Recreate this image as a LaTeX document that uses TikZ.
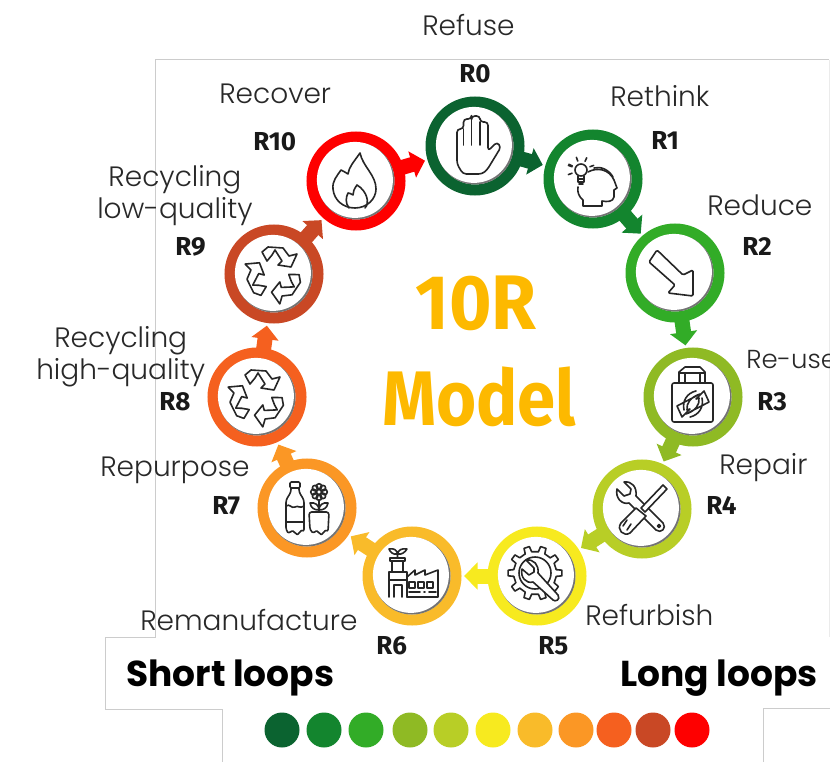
\documentclass[tikz,border=0pt]{standalone}
\usepackage{fontspec}
\usepackage{xcolor}
\usepackage{tikz}
\usetikzlibrary{arrows.meta,calc}
\newfontfamily\labelfont{Poppins Light}
\newfontfamily\loopfont{Poppins}[UprightFont=* Bold]
\newfontfamily\rfont{Fira Sans}[UprightFont=* Bold]
\newfontfamily\titlefont{Fira Sans}[UprightFont=* Bold,FakeStretch=0.94]
\newfontfamily\modelfont{Fira Sans}[UprightFont=* Bold,FakeStretch=0.89]

\definecolor{rzero}{RGB}{11,99,48}
\definecolor{rone}{RGB}{19,133,46}
\definecolor{rtwo}{RGB}{50,172,39}
\definecolor{rthree}{RGB}{143,186,36}
\definecolor{rfour}{RGB}{184,206,38}
\definecolor{rfive}{RGB}{247,234,31}
\definecolor{rsix}{RGB}{249,187,42}
\definecolor{rseven}{RGB}{251,151,37}
\definecolor{reight}{RGB}{245,96,31}
\definecolor{rnine}{RGB}{201,72,37}
\definecolor{rten}{RGB}{254,0,0}
\definecolor{titlecolor}{RGB}{253,185,0}
\definecolor{framecolor}{RGB}{204,204,204}
\definecolor{labelcolor}{RGB}{40,40,40}

\tikzset{
  ringnode/.style={circle,draw=#1,fill=white,line width=8.25pt,minimum size=66pt,inner sep=0pt},
  linkarrow/.style={draw=#1,line width=11.25pt,-{Triangle[width=20pt,length=10pt]},shorten >=2pt,shorten <=-1pt},
  dotnode/.style={circle,fill=#1,minimum size=26.25pt,inner sep=0pt},
  textlabel/.style={anchor=north west,inner sep=0.75pt,text=labelcolor,font=\labelfont\fontsize{21}{24}\selectfont,align=center},
  rlabel/.style={anchor=north west,inner sep=0.75pt,text=black!90,font=\rfont\fontsize{19.5}{24}\selectfont},
  looplabel/.style={anchor=north west,inner sep=0.75pt,font=\loopfont\fontsize{27}{30}\selectfont},
  titlelabel/.style={anchor=north west,inner sep=0.75pt,text=titlecolor,font=\titlefont\fontsize{58}{60}\selectfont},
  iconline/.style={draw=black!85,line width=1.2pt,line join=round,line cap=round},
  iconpic/.style={yscale=-1},
  ringshade/.pic={
    \fill[black!55] (0,0) circle (38.5);
    \fill[white] (-1.1,-1.1) circle (38);
  },
  handicon/.pic={
    \draw[iconline,rounded corners=2.5pt] (-18,18) -- (-18,-17) -- (-11.5,-17) -- (-11.5,-27) -- (-3.5,-27) -- (-3.5,-30) -- (5,-30) -- (5,-24) -- (13,-24) -- (13,5) -- (22,-4) -- (26,1) -- (12,24) -- (7,28) -- (-12,28) -- cycle;
    \draw[iconline] (-11.5,-17) -- (-11.5,-1) (-3.5,-26) -- (-3.5,-1) (5,-24) -- (5,-1);
  },
  headicon/.pic={
    \draw[iconline] (-12,-9) circle (6);
    \draw[iconline] (-15,-3) -- (-15,3) -- (-9,3) -- (-9,-3) (-15,0) -- (-9,0) (-14,5) -- (-10,5);
    \foreach \ang in {-20,-65,-110,-155,160,200}
      \draw[iconline] ($(-12,-9)+(\ang:9.5)$) -- ($(-12,-9)+(\ang:13.5)$);
    \draw[iconline] (-5,-7) .. controls (4,-12) and (16,-10) .. (21,1) -- (24,9) -- (21,11) -- (21,18) .. controls (20,23) and (14,23) .. (9,22) -- (9,27) -- (-10,27) -- (-10,21) .. controls (-14,18) and (-16,13) .. (-15,8);
    \draw[iconline] (1,-11) .. controls (8,-13) and (16,-9) .. (20,-2);
  },
  arrowicon/.pic={
    \draw[iconline,rounded corners=1pt] (-26,-11) -- (-18,-23) -- (8,2) -- (18,-3) -- (18,23) -- (-7,20) -- (0,12) -- cycle;
  },
  bagicon/.pic={
    \draw[iconline,rounded corners=1.5pt] (-21,-14) -- (20,-14) -- (20,25) -- (-21,25) -- cycle;
    \draw[iconline] (-14,-14) -- (-14,-25) -- (-8,-30) -- (7,-30) -- (12,-25) -- (12,-14) (-14,-24) -- (12,-24) (-8,-24) -- (-8,-14) (7,-24) -- (7,-14);
    \draw[iconline] (3,-6) .. controls (-6,-4) and (-11,4) .. (-9,13) (-16,9) -- (-11,20) -- (-3,12) -- (-6,13) .. controls (-7,6) and (-2,0) .. (7,-3) -- cycle;
    \draw[iconline] (-3,20) .. controls (6,18) and (11,10) .. (9,1) (16,5) -- (11,-6) -- (3,2) -- (6,1) .. controls (7,8) and (2,14) .. (-7,17) -- cycle;
  },
  toolicon/.pic={
    \draw[iconline,fill=white] (-18,-27) .. controls (-10,-28) and (-5,-22) .. (-6,-13) -- (21,14) .. controls (25,19) and (19,25) .. (14,21) -- (-13,-6) .. controls (-20,-4) and (-27,-11) .. (-25,-20) -- (-18,-13) -- (-12,-15) -- (-11,-20) -- cycle;
    \draw[iconline] (17,17) circle (1.5);
    \draw[iconline,fill=white] (21,-24) -- (25,-20) -- (3,3) -- (-1,-1) -- cycle;
    \draw[iconline,fill=white] (-6,-1) -- (4,7) -- (-12,24) .. controls (-18,28) and (-26,21) .. (-21,14) -- cycle;
    \draw[iconline] (-15,11) -- (-19,17) (-11,15) -- (-15,21);
  },
  gearicon/.pic={
    \begin{scope}[shift={(-2,-3)}]
      \foreach \ang in {0,36,...,324}
        \draw[iconline] ({\ang-9}:21.5) -- ({\ang-6}:27) -- ({\ang+6}:27) -- ({\ang+9}:21.5) -- ({\ang+27}:21.5);
      \draw[iconline] (0,0) circle (16);
      \draw[iconline,fill=white] (-9,-13) .. controls (-1,-14) and (4,-8) .. (3,0) -- (23,22) .. controls (26,27) and (20,29) .. (18,27) -- (-2,9) .. controls (-9,11) and (-15,4) .. (-13,-4) -- (-6,2) -- (-1,-1) -- (-1,-5) -- cycle;
    \end{scope}
  },
  factoryicon/.pic={
    \draw[iconline] (-23,21) -- (-23,-4) -- (-5,-4) -- (-5,21) (-20,-4) -- (-20,-15) -- (-9,-15) -- (-9,-4) (-22,-18) -- (-7,-18) -- (-7,-15) -- (-22,-15) -- cycle (-23,4) -- (-5,4);
    \draw[iconline] (-14.5,-18) -- (-14.5,-24) (-14.5,-22) .. controls (-19,-21) and (-22,-24) .. (-23,-27) .. controls (-18,-28) and (-15,-26) .. (-14.5,-22) (-14.5,-22) .. controls (-10,-21) and (-7,-24) .. (-5,-27) .. controls (-10,-28) and (-14,-26) .. (-14.5,-22);
    \draw[iconline] (-18,21) -- (-18,9) -- (-10,9) -- (-10,21);
    \draw[iconline] (-5,21) -- (26,21) -- (26,-6) -- (13,-1) -- (13,-6) -- (3,-1) -- (3,-6) -- (-5,1);
    \draw[iconline] (-3,6) rectangle (3,12) (6,6) rectangle (12,12) (15,6) rectangle (21,12) (-3,16) -- (8,16) (12,16) -- (13,16) (17,16) -- (24,16);
  },
  bottleicon/.pic={
    \draw[iconline,rounded corners=1pt] (-17,-26) rectangle (-7,-20);
    \draw[iconline,rounded corners=2pt] (-16,-20) -- (-16,-16) -- (-21,-8) -- (-21,22) .. controls (-18,26) and (-15,22) .. (-12,25) .. controls (-9,27) and (-6,22) .. (-3,24) -- (-3,-8) -- (-8,-16) -- (-8,-20);
    \draw[iconline] (-21,-2) .. controls (-17,-5) and (-16,1) .. (-12,-1) .. controls (-9,-3) and (-7,1) .. (-3,-2) (-21,14) -- (-3,14);
    \draw[iconline,rounded corners=2pt] (2,4) -- (3,22) .. controls (7,26) and (9,22) .. (12,25) .. controls (15,27) and (18,22) .. (21,24) -- (22,4) -- cycle;
    \draw[iconline] (12,-16) circle (2.5);
    \foreach \ang in {0,45,...,315}
      \draw[iconline] ($(12,-16)+(\ang:5.5)$) circle (2.8);
    \draw[iconline] (12,-8) -- (12,4) (12,2) .. controls (7,2) and (4,0) .. (3,-5) .. controls (8,-6) and (12,-3) .. (12,2) (12,2) .. controls (17,2) and (20,0) .. (21,-5) .. controls (16,-6) and (12,-3) .. (12,2);
  },
  recycleicon/.pic={
    \foreach \ang in {0,120,240}
      \draw[iconline,rotate=\ang] (-12,-22) -- (-6,-27) -- (9,-26) -- (15,-18) -- (23,-20) -- (17,-7) -- (4,-9) -- (8,-13) -- (1,-24) -- (-2,-19) -- (-7,-13) -- cycle;
  },
  flameicon/.pic={
    \draw[iconline] (4,-28) .. controls (-3,-18) and (-7,-14) .. (-8,-7) .. controls (-11,-9) and (-13,-10) .. (-15,-11) .. controls (-19,-5) and (-24,0) .. (-23,8) .. controls (-22,19) and (-13,27) .. (-1,27) .. controls (11,27) and (20,18) .. (20,8) .. controls (20,-6) and (7,-14) .. (4,-28) -- cycle;
    \draw[iconline] (-7,27) .. controls (-11,22) and (-10,16) .. (-8,12) .. controls (-6,12) and (-5,13) .. (-3,14) .. controls (-3,11) and (-2,8) .. (1,4) .. controls (11,10) and (14,22) .. (9,27);
  }
}

\begin{document}
\begin{tikzpicture}[x=0.75pt,y=0.75pt,yscale=-1,xscale=1]
    \useasboundingbox (0,0) rectangle (830,762);

    %Frame Lines
    \draw [framecolor,line width=0.75pt] (222,762) -- (222,709) -- (105,709) -- (105,637) -- (155,637) -- (155,60) -- (829,60);
    \draw [framecolor!40,line width=0.75pt] (829,60) -- (829,637);
    \draw [framecolor,line width=0.75pt] (763,762) -- (763,708) -- (830,708);

    %Ring Nodes
    \node (r0) [ringnode=rzero] at (475,146) {};
    \node (r1) [ringnode=rone] at (593,179) {};
    \node (r2) [ringnode=rtwo] at (675,273) {};
    \node (r3) [ringnode=rthree] at (693,397) {};
    \node (r4) [ringnode=rfour] at (642,509) {};
    \node (r5) [ringnode=rfive] at (537,576) {};
    \node (r6) [ringnode=rsix] at (412,576) {};
    \node (r7) [ringnode=rseven] at (307,508) {};
    \node (r8) [ringnode=reight] at (257,397) {};
    \node (r9) [ringnode=rnine] at (274,274) {};
    \node (r10) [ringnode=rten] at (356,181) {};

    %Arrows between rings
    \draw [linkarrow=rzero] (r0) -- (r1);
    \draw [linkarrow=rone] (r1) -- (r2);
    \draw [linkarrow=rtwo] (r2) -- (r3);
    \draw [linkarrow=rthree] (r3) -- (r4);
    \draw [linkarrow=rfour] (r4) -- (r5);
    \draw [linkarrow=rfive] (r5) -- (r6);
    \draw [linkarrow=rsix] (r6) -- (r7);
    \draw [linkarrow=rseven] (r7) -- (r8);
    \draw [linkarrow=reight] (r8) -- (r9);
    \draw [linkarrow=rnine] (r9) -- (r10);
    \draw [linkarrow=rten] (r10) -- (r0);

    %Icons
    \foreach \ringname in {r0,r1,r2,r3,r4,r5,r6,r7,r8,r9,r10}
      \pic [iconpic] at (\ringname) {ringshade};
    \pic [iconpic] at (r0) {handicon};
    \pic [iconpic] at (r1) {headicon};
    \pic [iconpic] at (r2) {arrowicon};
    \pic [iconpic] at (r3) {bagicon};
    \pic [iconpic] at (r4) {toolicon};
    \pic [iconpic] at (r5) {gearicon};
    \pic [iconpic] at (r6) {factoryicon};
    \pic [iconpic] at (r7) {bottleicon};
    \pic [iconpic] at (r8) {recycleicon};
    \pic [iconpic] at (r9) {recycleicon};
    \pic [iconpic] at (r10) {flameicon};

    % Text Node
    \node (refuse) [textlabel] at (421,13) {Refuse};
    \node (rethink) [textlabel] at (609,84) {Rethink};
    \node (reduce) [textlabel] at (706,194) {Reduce};
    \node (reuse) [textlabel,font=\labelfont\fontsize{19.5}{24}\selectfont] at (745,349) {Re-use};
    \node (repair) [textlabel] at (718,452) {Repair};
    \node (refurbish) [textlabel] at (584,603) {Refurbish};
    \node (remanufacture) [textlabel] at (139,608) {Remanufacture};
    \node (repurpose) [textlabel] at (99,456) {Repurpose};
    \node (highquality) [textlabel] at (35,325) {Recycling\\high-quality};
    \node (lowquality) [textlabel] at (96,164) {Recycling\\low-quality};
    \node (recover) [textlabel] at (218,83) {Recover};

    % Text Node
    \node (labelr0) [rlabel] at (458,63) {R0};
    \node (labelr1) [rlabel] at (650,130) {R1};
    \node (labelr2) [rlabel] at (741,236) {R2};
    \node (labelr3) [rlabel] at (756,391) {R3};
    \node (labelr4) [rlabel] at (705,495) {R4};
    \node (labelr5) [rlabel] at (537,635) {R5};
    \node (labelr6) [rlabel] at (375,635) {R6};
    \node (labelr7) [rlabel] at (211,495) {R7};
    \node (labelr8) [rlabel] at (158,391) {R8};
    \node (labelr9) [rlabel] at (174,236) {R9};
    \node (labelr10) [rlabel] at (252,131) {R10};

    % Text Node
    \node (titleten) [titlelabel] at (414,275) {10R};
    \node (titlemodel) [titlelabel,font=\modelfont\fontsize{58}{60}\selectfont] at (381,366) {Model};
    \node (shortloops) [looplabel] at (125,659) {Short loops};
    \node (longloops) [looplabel] at (619,659) {Long loops};

    %Legend dots
    \node (dot0) [dotnode=rzero] at (282,730) {};
    \node (dot1) [dotnode=rone] at (324,730) {};
    \node (dot2) [dotnode=rtwo] at (366,730) {};
    \node (dot3) [dotnode=rthree] at (410,730) {};
    \node (dot4) [dotnode=rfour] at (451,730) {};
    \node (dot5) [dotnode=rfive] at (493,730) {};
    \node (dot6) [dotnode=rsix] at (535,730) {};
    \node (dot7) [dotnode=rseven] at (576,730) {};
    \node (dot8) [dotnode=reight] at (614,730) {};
    \node (dot9) [dotnode=rnine] at (653,730) {};
    \node (dot10) [dotnode=rten] at (692,730) {};
\end{tikzpicture}
\end{document}
